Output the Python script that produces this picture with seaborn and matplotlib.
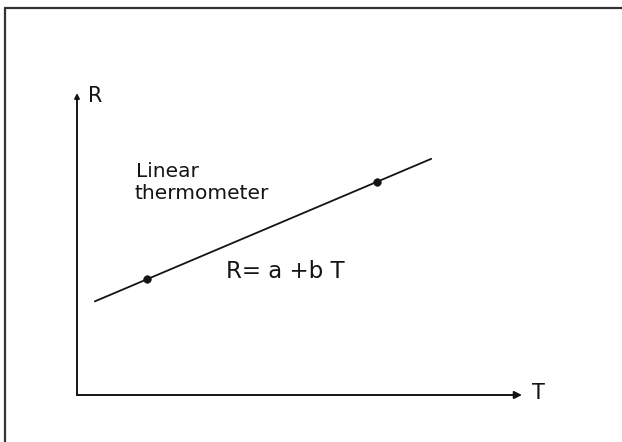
import matplotlib
matplotlib.use("Agg")
import matplotlib.pyplot as plt
from matplotlib.lines import Line2D
import pandas as pd
import seaborn as sns

# sketch of a linear thermometer, R against T (arbitrary units 0..10)
line_T = [0.40, 7.96]
line_R = [3.10, 7.82]
point_T = [1.57, 6.74]
point_R = [3.84, 7.05]

axis_label_x = "T"
axis_label_y = "R"
note_lines = ["Linear", "thermometer"]
equation = "R= a +b T"

sns.set_style("white")
plt.rcParams['font.family'] = ['DejaVu Sans']

fig = plt.figure(figsize=(6.22, 4.42), dpi=100)
ax = fig.add_axes([77 / 622, 47 / 442, 445 / 622, 302 / 442])
ax.set_xlim(0, 10)
ax.set_ylim(0, 10)
ax.axis("off")

ink = "#141414"

line_df = pd.DataFrame({"T": line_T, "R": line_R})
sns.lineplot(data=line_df, x="T", y="R", color=ink, linewidth=1.3, ax=ax)

pts_df = pd.DataFrame({"T": point_T, "R": point_R})
sns.scatterplot(data=pts_df, x="T", y="R", color=ink, s=30, edgecolor=ink, ax=ax, zorder=3)

# hand drawn axes with arrow heads
arrow = dict(arrowstyle="-|>", color=ink, lw=1.4, mutation_scale=11, shrinkA=0, shrinkB=0)
ax.annotate("", xy=(10, 0), xytext=(0, 0), arrowprops=arrow, annotation_clip=False)
arrow_small = dict(arrow, mutation_scale=7)
ax.annotate("", xy=(0, 10), xytext=(0, 0), arrowprops=arrow_small, annotation_clip=False)

ax.text(0.25, 9.70, axis_label_y, fontsize=15, color=ink, va="baseline", ha="left")
ax.text(10.22, -0.13, axis_label_x, fontsize=15, color=ink, va="baseline", ha="left")
ax.text(1.33, 7.22, note_lines[0], fontsize=14.5, color=ink, va="baseline", ha="left")
ax.text(1.30, 6.48, note_lines[1], fontsize=14.5, color=ink, va="baseline", ha="left")
ax.text(3.35, 3.87, equation, fontsize=16.5, color=ink, va="baseline", ha="left")

# scanned page frame: only left and top edges show
fig.add_artist(Line2D([4.5 / 622, 4.5 / 622], [0, 1 - 8 / 442], color="#333333", lw=1.6))
fig.add_artist(Line2D([4.5 / 622, 1], [1 - 8 / 442, 1 - 8 / 442], color="#333333", lw=1.6))

fig.savefig("out.png", dpi=100)
